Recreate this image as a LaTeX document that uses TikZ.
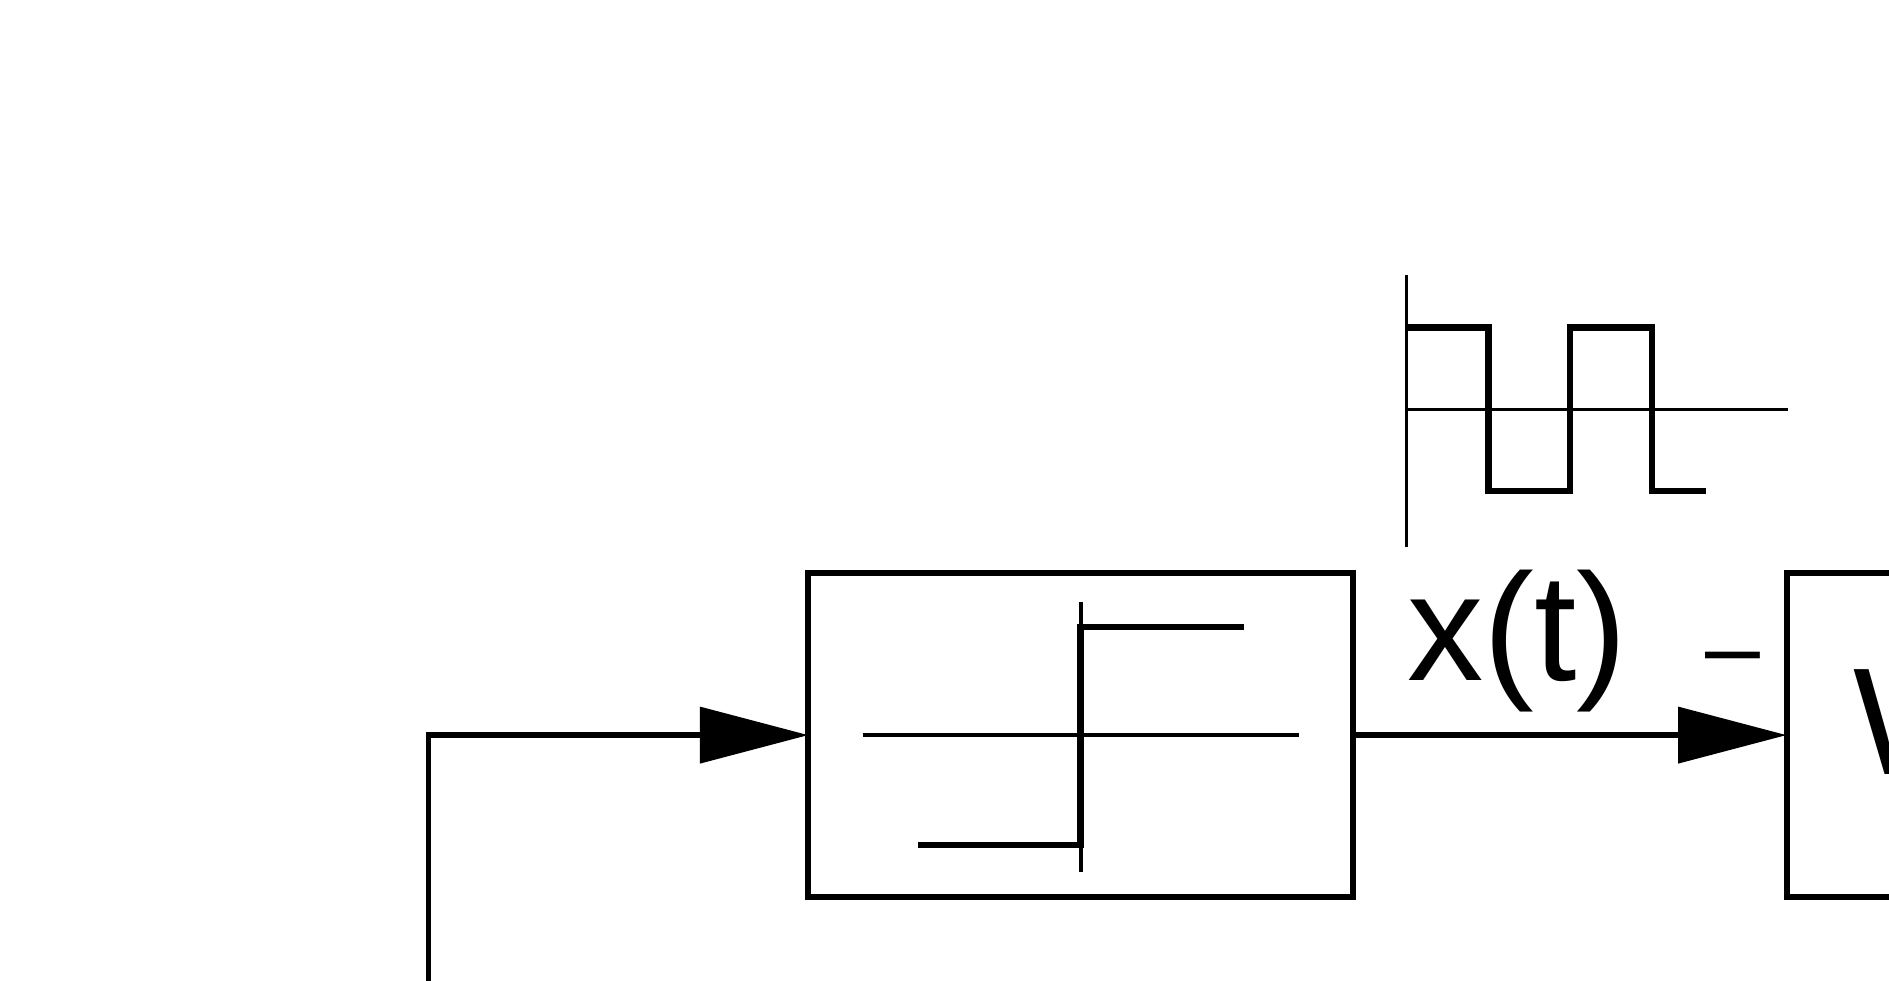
\documentclass[tikz,border=0pt]{standalone}
\usepackage{fontspec}
\setmainfont{Liberation Sans}
\usetikzlibrary{arrows.meta,positioning}

\begin{document}
\begin{tikzpicture}[x=0.1mm,y=-0.1mm,
    blk/.style={draw,line width=1.42pt,minimum width=45.2mm,minimum height=26.95mm,inner sep=0pt,outer sep=0pt},
    sig/.style={line width=1.34pt,-{Triangle[length=9mm,width=4.6mm]}},
    ax/.style={line width=0.94pt},
    trace/.style={line width=1.5pt},
    lbl/.style={anchor=base west,inner sep=0pt,font=\fontsize{36}{43}\selectfont}]

\useasboundingbox (0,0) rectangle (1568,814);

\node[blk] (nl) at (897,610.2) {};
\node[blk,right=36mm of nl] (plant) {};
\coordinate (in) at (355.8,830);

\draw[sig] (in) |- (nl);
\draw[sig] (nl) -- (plant);

\begin{scope}[shift={(nl.center)}]
\draw[ax] (-181,0) -- (181,0) (0,-110.5) -- (0,114);
\draw[trace] (-135,91) -| (0,-89.5) -- (135.6,-89.5);
\end{scope}

\begin{scope}[shift={(1167.4,339.8)}]
\draw[line width=0.66pt] (0,-111.5) -- (0,114) (0,0) -- (316.8,0);
\draw[trace] (0,-67.8) -| (68.1,68) -| (135.8,-67.8) -| (203.6,68) -- (248.4,68);
\end{scope}

\node[lbl] (xt) at (1167.5,565) {x(t)};
\node[lbl,font=\fontsize{23.3}{28}\selectfont] (neg) at (1415.3,565) {–};
\node[lbl] (plantlbl) at (1538,643.3) {W};

\end{tikzpicture}
\end{document}
